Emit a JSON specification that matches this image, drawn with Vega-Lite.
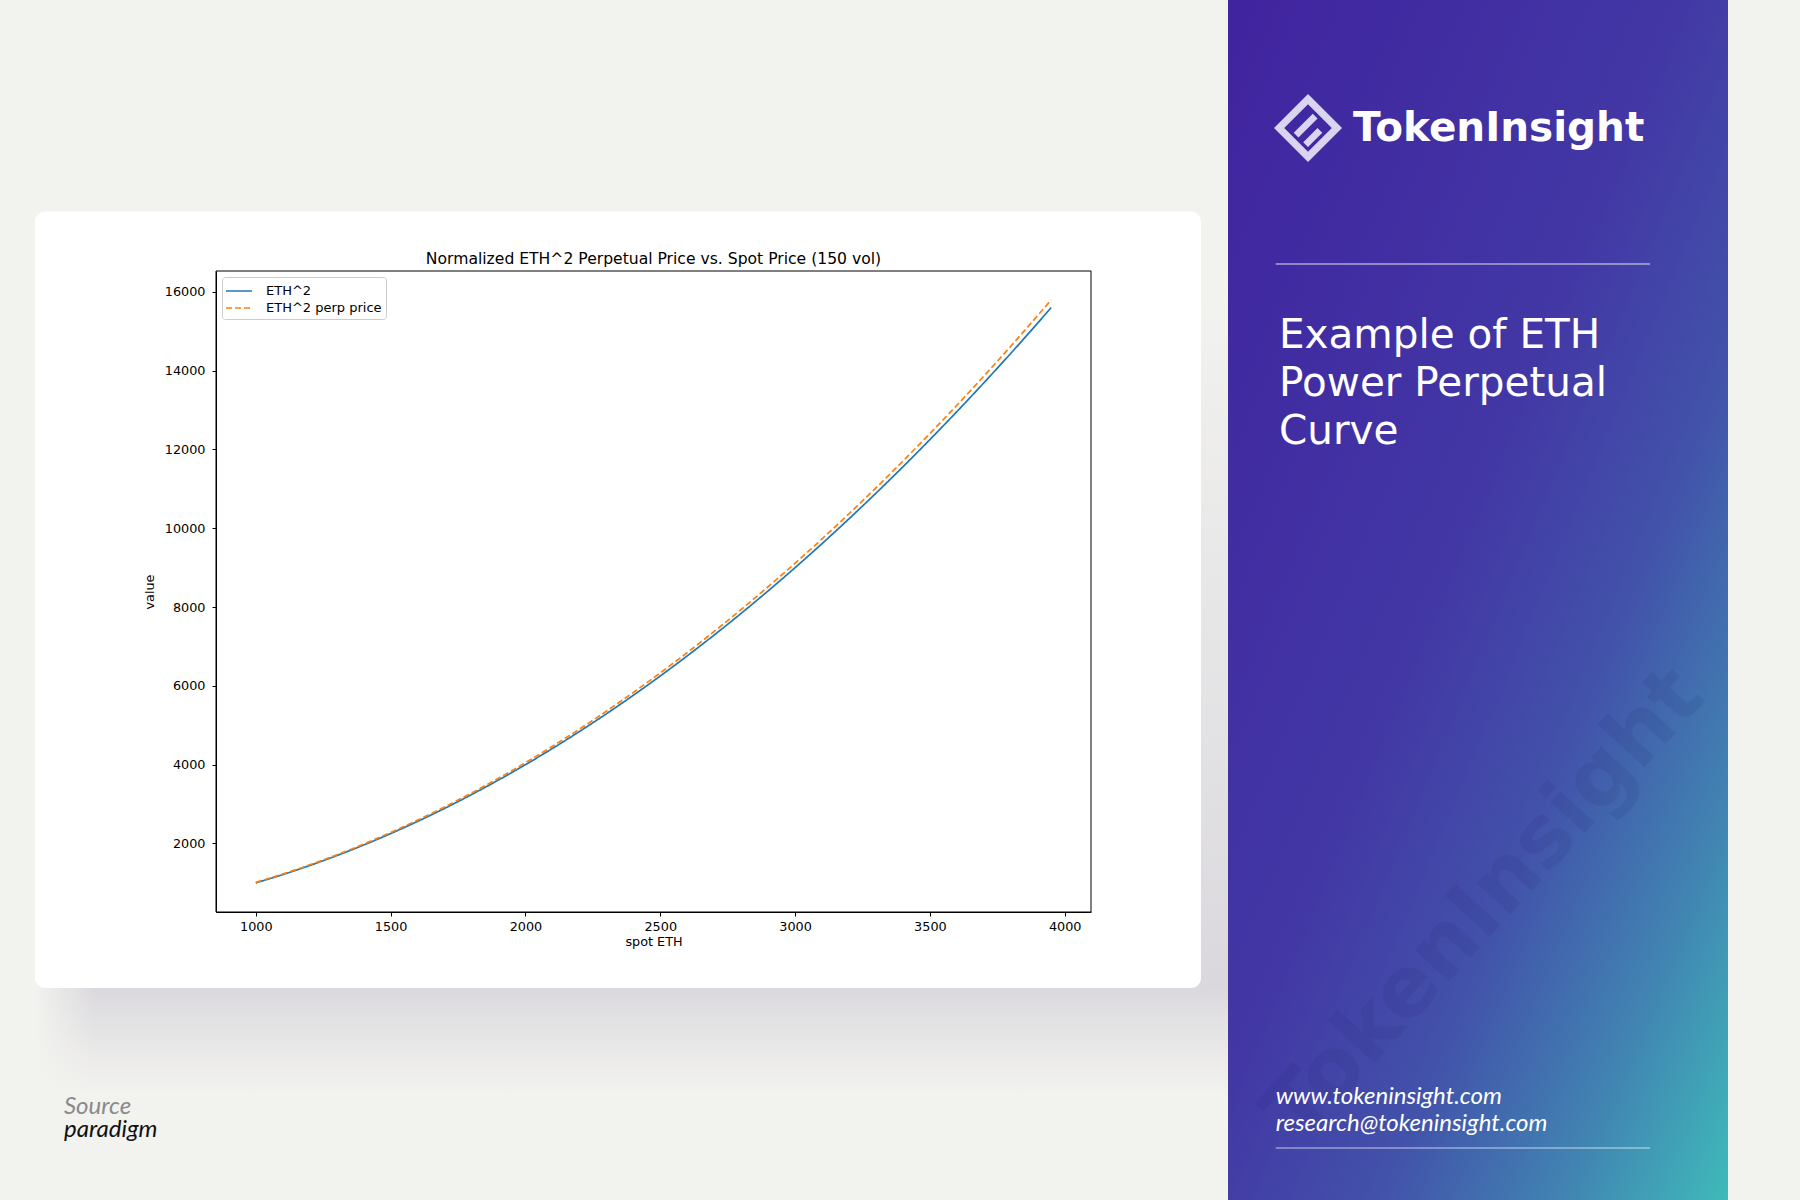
{
  "$schema": "https://vega.github.io/schema/vega-lite/v6.json",
  "description": "Normalized ETH^2 perpetual price vs spot price, TokenInsight style card",
  "width": 875,
  "height": 641,
  "autosize": {"type": "none"},
  "padding": {"left": 216, "top": 271, "right": 709, "bottom": 288},
  "background": "#f2f2ef",
  "data": {
    "values": [
      {"spot": 1000, "series": "ETH^2", "value": 1000},
      {"spot": 1100, "series": "ETH^2", "value": 1210},
      {"spot": 1200, "series": "ETH^2", "value": 1440},
      {"spot": 1300, "series": "ETH^2", "value": 1690},
      {"spot": 1400, "series": "ETH^2", "value": 1960},
      {"spot": 1500, "series": "ETH^2", "value": 2250},
      {"spot": 1600, "series": "ETH^2", "value": 2560},
      {"spot": 1700, "series": "ETH^2", "value": 2890},
      {"spot": 1800, "series": "ETH^2", "value": 3240},
      {"spot": 1900, "series": "ETH^2", "value": 3610},
      {"spot": 2000, "series": "ETH^2", "value": 4000},
      {"spot": 2100, "series": "ETH^2", "value": 4410},
      {"spot": 2200, "series": "ETH^2", "value": 4840},
      {"spot": 2300, "series": "ETH^2", "value": 5290},
      {"spot": 2400, "series": "ETH^2", "value": 5760},
      {"spot": 2500, "series": "ETH^2", "value": 6250},
      {"spot": 2600, "series": "ETH^2", "value": 6760},
      {"spot": 2700, "series": "ETH^2", "value": 7290},
      {"spot": 2800, "series": "ETH^2", "value": 7840},
      {"spot": 2900, "series": "ETH^2", "value": 8410},
      {"spot": 3000, "series": "ETH^2", "value": 9000},
      {"spot": 3100, "series": "ETH^2", "value": 9610},
      {"spot": 3200, "series": "ETH^2", "value": 10240},
      {"spot": 3300, "series": "ETH^2", "value": 10890},
      {"spot": 3400, "series": "ETH^2", "value": 11560},
      {"spot": 3500, "series": "ETH^2", "value": 12250},
      {"spot": 3600, "series": "ETH^2", "value": 12960},
      {"spot": 3700, "series": "ETH^2", "value": 13690},
      {"spot": 3800, "series": "ETH^2", "value": 14440},
      {"spot": 3900, "series": "ETH^2", "value": 15210},
      {"spot": 3950, "series": "ETH^2", "value": 15602.5},
      {"spot": 1000, "series": "ETH^2 perp price", "value": 1012.5},
      {"spot": 1100, "series": "ETH^2 perp price", "value": 1225.1},
      {"spot": 1200, "series": "ETH^2 perp price", "value": 1458},
      {"spot": 1300, "series": "ETH^2 perp price", "value": 1711.1},
      {"spot": 1400, "series": "ETH^2 perp price", "value": 1984.5},
      {"spot": 1500, "series": "ETH^2 perp price", "value": 2278.1},
      {"spot": 1600, "series": "ETH^2 perp price", "value": 2592},
      {"spot": 1700, "series": "ETH^2 perp price", "value": 2926.1},
      {"spot": 1800, "series": "ETH^2 perp price", "value": 3280.5},
      {"spot": 1900, "series": "ETH^2 perp price", "value": 3655.1},
      {"spot": 2000, "series": "ETH^2 perp price", "value": 4050},
      {"spot": 2100, "series": "ETH^2 perp price", "value": 4465.1},
      {"spot": 2200, "series": "ETH^2 perp price", "value": 4900.5},
      {"spot": 2300, "series": "ETH^2 perp price", "value": 5356.1},
      {"spot": 2400, "series": "ETH^2 perp price", "value": 5832},
      {"spot": 2500, "series": "ETH^2 perp price", "value": 6328.1},
      {"spot": 2600, "series": "ETH^2 perp price", "value": 6844.5},
      {"spot": 2700, "series": "ETH^2 perp price", "value": 7381.1},
      {"spot": 2800, "series": "ETH^2 perp price", "value": 7938},
      {"spot": 2900, "series": "ETH^2 perp price", "value": 8515.1},
      {"spot": 3000, "series": "ETH^2 perp price", "value": 9112.5},
      {"spot": 3100, "series": "ETH^2 perp price", "value": 9730.1},
      {"spot": 3200, "series": "ETH^2 perp price", "value": 10368},
      {"spot": 3300, "series": "ETH^2 perp price", "value": 11026.1},
      {"spot": 3400, "series": "ETH^2 perp price", "value": 11704.5},
      {"spot": 3500, "series": "ETH^2 perp price", "value": 12403.1},
      {"spot": 3600, "series": "ETH^2 perp price", "value": 13122},
      {"spot": 3700, "series": "ETH^2 perp price", "value": 13861.1},
      {"spot": 3800, "series": "ETH^2 perp price", "value": 14620.5},
      {"spot": 3900, "series": "ETH^2 perp price", "value": 15400.1},
      {"spot": 3950, "series": "ETH^2 perp price", "value": 15797.5}
    ]
  },
  "layer": [
    {
      "data": {"values": [{}]},
      "mark": {
        "type": "rect",
        "fill": {"gradient": "linear", "x1": 0, "y1": 0, "x2": 0, "y2": 1,
          "stops": [
            {"offset": 0, "color": "#dbd9de"},
            {"offset": 0.47, "color": "#dbd9de"},
            {"offset": 0.62, "color": "#e2e1e3"},
            {"offset": 0.8, "color": "#ebeae9"},
            {"offset": 1, "color": "#f2f2ef"}
          ]}
      },
      "encoding": {
        "x": {"datum": 181.3, "type": "quantitative"}, "x2": {"datum": 4605.6},
        "y": {"datum": 565.1, "type": "quantitative"}, "y2": {"datum": -4384.1}
      }
    },
    {
      "data": {"values": [{}]},
      "mark": {
        "type": "rect",
        "fill": {"gradient": "linear", "x1": 0, "y1": 0, "x2": 1, "y2": 0,
          "stops": [
            {"offset": 0, "color": "rgba(242,242,239,1)"},
            {"offset": 1, "color": "rgba(242,242,239,0)"}
          ]}
      },
      "encoding": {
        "x": {"datum": 181.3, "type": "quantitative"}, "x2": {"datum": 403.8},
        "y": {"datum": 565.1, "type": "quantitative"}, "y2": {"datum": -4384.1}
      }
    },
    {
      "data": {"values": [{}]},
      "mark": {
        "type": "rect",
        "fill": {"gradient": "linear", "x1": 0, "y1": 0, "x2": 0, "y2": 1,
          "stops": [
            {"offset": 0, "color": "#f2f2ef"},
            {"offset": 1, "color": "#dad8dd"}
          ]}
      },
      "encoding": {
        "x": {"datum": 4505.4, "type": "quantitative"}, "x2": {"datum": 4605.6},
        "y": {"datum": 15793.5, "type": "quantitative"}, "y2": {"datum": -1668.4}
      }
    },
    {
      "data": {"values": [{}]},
      "mark": {"type": "rect", "fill": "#ffffff", "cornerRadius": 10},
      "encoding": {
        "x": {"datum": 181.3, "type": "quantitative"}, "x2": {"datum": 4505.4},
        "y": {"datum": 18039.6, "type": "quantitative"}, "y2": {"datum": -1668.4}
      }
    },
    {
      "data": {"values": [{}]},
      "mark": {
        "type": "rect",
        "fill": {"gradient": "linear", "x1": 0, "y1": 0, "x2": 1, "y2": 1,
          "stops": [
            {"offset": 0, "color": "#40239f"},
            {"offset": 0.45, "color": "#4237a5"},
            {"offset": 0.65, "color": "#4252aa"},
            {"offset": 0.83, "color": "#4183b2"},
            {"offset": 1, "color": "#3fbab9"}
          ]}
      },
      "encoding": {
        "x": {"datum": 4605.6, "type": "quantitative"}, "x2": {"datum": 6459.9},
        "y": {"datum": 23407.6, "type": "quantitative"}, "y2": {"datum": -7049.1}
      }
    },
    {
      "data": {"values": [{}]},
      "mark": {"type": "text", "text": "TokenInsight", "font": "DejaVu Sans", "fontWeight": "bold", "fontSize": 84, "angle": -47.6, "color": "#1c1c60", "opacity": 0.09, "align": "center", "baseline": "middle"},
      "encoding": {
        "x": {"datum": 5558.7, "type": "quantitative"},
        "y": {"datum": 438.2, "type": "quantitative"}
      }
    },
    {
      "mark": {"type": "line", "strokeWidth": 1.7, "interpolate": "monotone"},
      "encoding": {
        "x": {
          "field": "spot", "type": "quantitative",
          "scale": {"domain": [852.5, 4097.5], "nice": false, "zero": false},
          "axis": {"title": "spot ETH", "values": [1000, 1500, 2000, 2500, 3000, 3500, 4000], "format": "d", "titlePadding": 3, "labelPadding": 4, "zindex": 1}
        },
        "y": {
          "field": "value", "type": "quantitative",
          "scale": {"domain": [260.5, 16529.5], "nice": false, "zero": false},
          "axis": {"title": "value", "values": [2000, 4000, 6000, 8000, 10000, 12000, 14000, 16000], "format": "d", "titlePadding": 8, "labelPadding": 7, "zindex": 1}
        },
        "color": {
          "field": "series", "type": "nominal",
          "scale": {"domain": ["ETH^2", "ETH^2 perp price"], "range": ["#1f77b4", "#ff7f0e"]},
          "legend": {"title": null, "zindex": 1}
        },
        "strokeDash": {
          "field": "series", "type": "nominal",
          "scale": {"domain": ["ETH^2", "ETH^2 perp price"], "range": [[1, 0], [6, 3]]},
          "legend": {"title": null, "zindex": 1}
        }
      }
    },
    {
      "data": {"values": [{}]},
      "mark": {"type": "rect", "filled": false, "stroke": "#000000", "strokeWidth": 1},
      "encoding": {
        "x": {"datum": 852.5, "type": "quantitative"}, "x2": {"datum": 4097.5},
        "y": {"datum": 260.5, "type": "quantitative"}, "y2": {"datum": 16529.5}
      }
    },
    {
      "data": {"values": [{}]},
      "mark": {"type": "text", "text": "Normalized ETH^2 Perpetual Price vs. Spot Price (150 vol)", "font": "DejaVu Sans", "fontSize": 15.6, "color": "#000000", "align": "center", "baseline": "alphabetic"},
      "encoding": {
        "x": {"datum": 2475, "type": "quantitative"},
        "y": {"datum": 16707.2, "type": "quantitative"}
      }
    },
    {
      "data": {"values": [{}]},
      "mark": {
        "type": "point", "filled": true, "fill": "#e2ddf3", "opacity": 0.95, "strokeWidth": 0, "size": 4624,
        "shape": "M0,-1L1,0L0,1L-1,0Z M0,-0.7L-0.7,0L0,0.7L0.7,0Z M-0.42,0.14L0.14,-0.42L0.28,-0.28L-0.28,0.28Z M-0.14,0.42L0.28,0L0.42,0.14L0,0.56Z"
      },
      "encoding": {
        "x": {"datum": 4902.3, "type": "quantitative"},
        "y": {"datum": 20158.9, "type": "quantitative"}
      }
    },
    {
      "data": {"values": [{}]},
      "mark": {"type": "text", "text": "TokenInsight", "font": "DejaVu Sans", "fontSize": 40.5, "fontWeight": "bold", "color": "#ffffff", "align": "left", "baseline": "alphabetic"},
      "encoding": {
        "x": {"datum": 5069.1, "type": "quantitative"},
        "y": {"datum": 19829, "type": "quantitative"}
      }
    },
    {
      "data": {"values": [{}]},
      "mark": {"type": "rule", "color": "#ffffff", "strokeWidth": 1.2, "opacity": 0.85},
      "encoding": {
        "x": {"datum": 4782.5, "type": "quantitative"}, "x2": {"datum": 6170.6},
        "y": {"datum": 16707.2, "type": "quantitative"}
      }
    },
    {
      "data": {"values": [{}]},
      "mark": {"type": "text", "text": ["Example of ETH", "Power Perpetual", "Curve"], "font": "DejaVu Sans", "fontSize": 40.5, "lineHeight": 48, "color": "#ffffff", "align": "left", "baseline": "alphabetic"},
      "encoding": {
        "x": {"datum": 4794.7, "type": "quantitative"},
        "y": {"datum": 14575.2, "type": "quantitative"}
      }
    },
    {
      "data": {"values": [{}]},
      "mark": {"type": "text", "text": ["www.tokeninsight.com", "research@tokeninsight.com"], "font": "Lato", "fontStyle": "italic", "fontSize": 24, "lineHeight": 27, "color": "#ffffff", "align": "left", "baseline": "alphabetic"},
      "encoding": {
        "x": {"datum": 4782.5, "type": "quantitative"},
        "y": {"datum": -4612.5, "type": "quantitative"}
      }
    },
    {
      "data": {"values": [{}]},
      "mark": {"type": "rule", "color": "#ffffff", "strokeWidth": 1.2, "opacity": 0.7},
      "encoding": {
        "x": {"datum": 4782.5, "type": "quantitative"}, "x2": {"datum": 6170.6},
        "y": {"datum": -5729.3, "type": "quantitative"}
      }
    },
    {
      "data": {"values": [{}]},
      "mark": {"type": "text", "text": "Source", "font": "Lato", "fontStyle": "italic", "fontSize": 24, "color": "#8a8a8a", "align": "left", "baseline": "alphabetic"},
      "encoding": {
        "x": {"datum": 288.8, "type": "quantitative"},
        "y": {"datum": -4866.3, "type": "quantitative"}
      }
    },
    {
      "data": {"values": [{}]},
      "mark": {"type": "text", "text": "paradigm", "font": "Lato", "fontStyle": "italic", "fontSize": 24, "color": "#111111", "align": "left", "baseline": "alphabetic"},
      "encoding": {
        "x": {"datum": 288.8, "type": "quantitative"},
        "y": {"datum": -5450.1, "type": "quantitative"}
      }
    }
  ],
  "config": {
    "font": "DejaVu Sans",
    "view": {"stroke": null},
    "axis": {
      "grid": false,
      "domainColor": "#000000", "tickColor": "#000000", "labelColor": "#000000", "titleColor": "#000000",
      "labelFont": "DejaVu Sans", "titleFont": "DejaVu Sans",
      "labelFontSize": 12.8, "titleFontSize": 12.8, "titleFontWeight": "normal",
      "tickSize": 4
    },
    "legend": {
      "orient": "top-left", "offset": 6,
      "fillColor": "#ffffff", "strokeColor": "#cccccc", "cornerRadius": 3, "padding": 4,
      "symbolType": "M-1.5,0L1.5,0", "symbolSize": 300, "symbolStrokeWidth": 1.7, "symbolOffset": 3,
      "labelFont": "DejaVu Sans", "labelFontSize": 13, "labelColor": "#000000", "labelOffset": 17,
      "rowPadding": -1
    }
  }
}
